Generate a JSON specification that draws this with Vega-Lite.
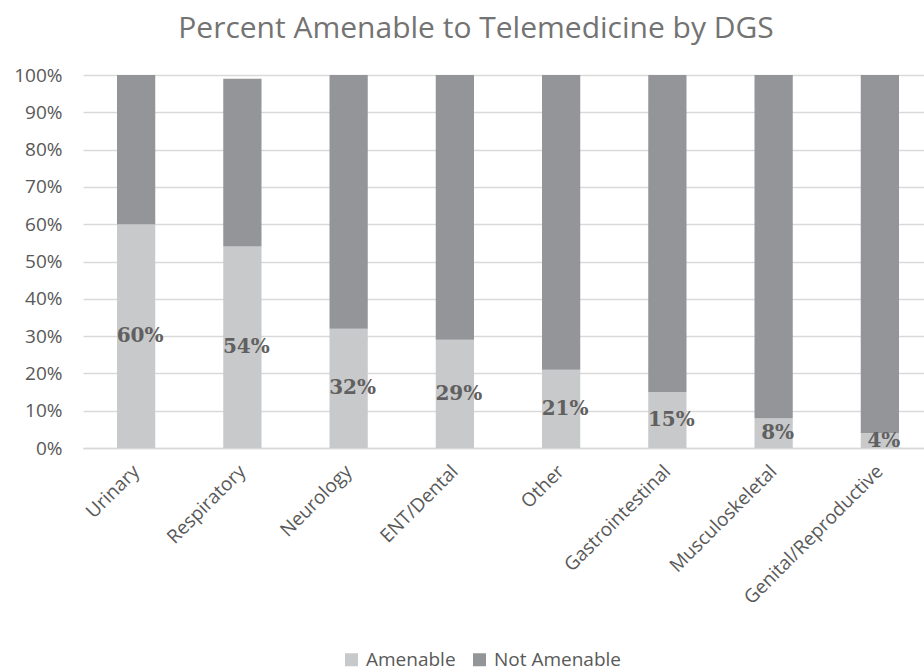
{
  "$schema": "https://vega.github.io/schema/vega-lite/v6.json",
  "autosize": {"type": "none"},
  "padding": {"left": 83, "top": 75, "right": 0, "bottom": 223},
  "width": 850,
  "height": 373,
  "background": "white",
  "title": {
    "text": "Percent Amenable to Telemedicine by DGS",
    "font": "Open Sans",
    "fontSize": 30,
    "fontWeight": "normal",
    "color": "#737373",
    "anchor": "middle",
    "dx": -32,
    "offset": 22
  },
  "data": {
    "values": [
      {"category": "Urinary", "status": "Amenable", "value": 60},
      {"category": "Urinary", "status": "Not Amenable", "value": 40},
      {"category": "Respiratory", "status": "Amenable", "value": 54},
      {"category": "Respiratory", "status": "Not Amenable", "value": 45},
      {"category": "Neurology", "status": "Amenable", "value": 32},
      {"category": "Neurology", "status": "Not Amenable", "value": 68},
      {"category": "ENT/Dental", "status": "Amenable", "value": 29},
      {"category": "ENT/Dental", "status": "Not Amenable", "value": 71},
      {"category": "Other", "status": "Amenable", "value": 21},
      {"category": "Other", "status": "Not Amenable", "value": 79},
      {"category": "Gastrointestinal", "status": "Amenable", "value": 15},
      {"category": "Gastrointestinal", "status": "Not Amenable", "value": 85},
      {"category": "Musculoskeletal", "status": "Amenable", "value": 8},
      {"category": "Musculoskeletal", "status": "Not Amenable", "value": 92},
      {"category": "Genital/Reproductive", "status": "Amenable", "value": 4},
      {"category": "Genital/Reproductive", "status": "Not Amenable", "value": 96}
    ]
  },
  "encoding": {
    "x": {
      "field": "category",
      "type": "nominal",
      "sort": null,
      "scale": {"paddingInner": 0.64, "paddingOuter": 0.32},
      "axis": {
        "title": null,
        "labelAngle": -45,
        "labelAlign": "right",
        "labelBaseline": "middle",
        "labelFont": "Open Sans",
        "labelFontSize": 19,
        "labelColor": "#595959",
        "labelPadding": 20,
        "labelLimit": 400,
        "ticks": false,
        "domain": true,
        "domainColor": "#d9d9d9",
        "domainWidth": 1.5,
        "grid": false
      }
    }
  },
  "layer": [
    {
      "mark": {"type": "bar"},
      "encoding": {
        "y": {
          "field": "value",
          "type": "quantitative",
          "stack": "zero",
          "scale": {"domain": [0, 100], "nice": false},
          "axis": {
            "title": null,
            "values": [0, 10, 20, 30, 40, 50, 60, 70, 80, 90, 100],
            "labelExpr": "datum.value + '%'",
            "labelOverlap": false,
            "labelFont": "Open Sans",
            "labelFontSize": 19,
            "labelColor": "#595959",
            "labelPadding": 21,
            "ticks": false,
            "domain": false,
            "gridColor": "#d9d9d9",
            "gridWidth": 1.5
          }
        },
        "order": {"field": "status", "sort": "ascending"},
        "color": {
          "field": "status",
          "type": "nominal",
          "scale": {"domain": ["Amenable", "Not Amenable"], "range": ["#c8c9cb", "#939598"]},
          "legend": {
            "title": null,
            "orient": "none",
            "direction": "horizontal",
            "legendX": 259,
            "legendY": 575,
            "padding": 0,
            "symbolType": "square",
            "symbolSize": 169,
            "symbolStrokeWidth": 0,
            "labelFont": "Open Sans",
            "labelFontSize": 19,
            "labelColor": "#595959",
            "labelOffset": 5,
            "columnPadding": 14
          }
        }
      }
    },
    {
      "transform": [
        {"filter": "datum.status === 'Amenable'"},
        {"calculate": "datum.value / 2", "as": "mid"},
        {"calculate": "datum.value + '%'", "as": "label"}
      ],
      "mark": {
        "type": "text",
        "font": "DejaVu Serif",
        "fontWeight": "bold",
        "fontSize": 20,
        "color": "#606060",
        "dx": 4,
        "baseline": "middle"
      },
      "encoding": {
        "y": {
          "field": "mid",
          "type": "quantitative",
          "axis": {
            "title": null,
            "values": [0, 10, 20, 30, 40, 50, 60, 70, 80, 90, 100],
            "labelExpr": "datum.value + '%'",
            "labelOverlap": false,
            "labelFont": "Open Sans",
            "labelFontSize": 19,
            "labelColor": "#595959",
            "labelPadding": 21,
            "ticks": false,
            "domain": false,
            "gridColor": "#d9d9d9",
            "gridWidth": 1.5
          }
        },
        "text": {"field": "label", "type": "nominal"}
      }
    }
  ],
  "config": {
    "view": {"stroke": null}
  }
}
